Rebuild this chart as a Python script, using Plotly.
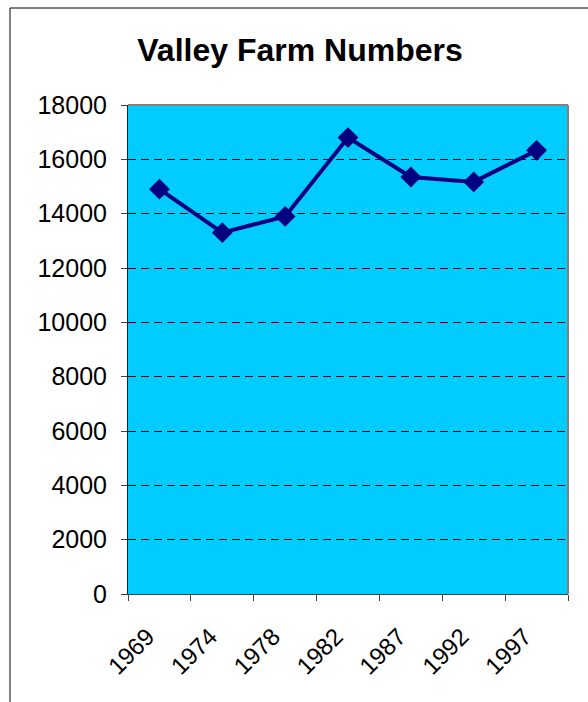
import plotly.graph_objects as go

# Valley farm counts by census year
years = ["1969", "1974", "1978", "1982", "1987", "1992", "1997"]
farms = [14900, 13300, 13900, 16800, 15350, 15170, 16330]
y_ticks = [0, 2000, 4000, 6000, 8000, 10000, 12000, 14000, 16000, 18000]
y_tick_text = [str(v) for v in y_ticks]

W, H = 588, 702
L, R, T, B = 128, 20, 105, 108
pw, ph = W - L - R, H - T - B


def px_to_paper_x(px):
    return (px - L) / pw


def px_to_paper_y(py):
    return (H - B - py) / ph


fig = go.Figure()
fig.add_trace(go.Scatter(
    x=years, y=farms, mode="lines+markers",
    line=dict(color="#000080", width=4),
    marker=dict(symbol="diamond", size=16, color="#000080"),
    showlegend=False,
))

font = "Liberation Sans, Arial, sans-serif"

fig.update_layout(
    width=W, height=H,
    margin=dict(l=L, r=R, t=T, b=B),
    paper_bgcolor="white",
    plot_bgcolor="#00CCFF",
    font=dict(family=font, color="black", size=24),
    title=dict(
        text="<b>Valley Farm Numbers</b>",
        font=dict(family=font, size=32, color="black"),
        x=300 / W, xref="container", xanchor="center",
        y=1 - 50 / H, yref="container", yanchor="middle",
    ),
    xaxis=dict(
        type="category", range=[-0.5, len(years) - 0.5],
        tickson="boundaries", ticks="outside", ticklen=6,
        tickcolor="#404040", tickwidth=1,
        tickangle=-45, showgrid=False,
        showline=True, linecolor="#404040", linewidth=1,
        tickfont=dict(size=24), ticklabelstandoff=18, ticklabelshift=-12,
    ),
    yaxis=dict(
        range=[0, 18000], tickvals=y_ticks, ticktext=y_tick_text,
        ticks="outside", ticklen=6, tickcolor="#404040",
        showline=True, linecolor="#202020", linewidth=1,
        showgrid=True, gridcolor="black", gridwidth=1, griddash="8px,5px",
        zeroline=False, ticklabelstandoff=9,
        tickfont=dict(size=25),
    ),
    shapes=[
        # plot area border (top and right)
        dict(type="line", xref="paper", yref="paper", x0=0, x1=1, y0=1, y1=1,
             line=dict(color="#808080", width=2)),
        dict(type="line", xref="paper", yref="paper", x0=1, x1=1, y0=0, y1=1,
             line=dict(color="#808080", width=2)),
        # chart frame
        dict(type="line", xref="paper", yref="paper",
             x0=px_to_paper_x(10), x1=px_to_paper_x(W + 5),
             y0=px_to_paper_y(8), y1=px_to_paper_y(8),
             line=dict(color="black", width=1)),
        dict(type="line", xref="paper", yref="paper",
             x0=px_to_paper_x(10), x1=px_to_paper_x(10),
             y0=px_to_paper_y(8), y1=px_to_paper_y(H + 5),
             line=dict(color="black", width=1)),
    ],
)

fig.write_html("out.html")
